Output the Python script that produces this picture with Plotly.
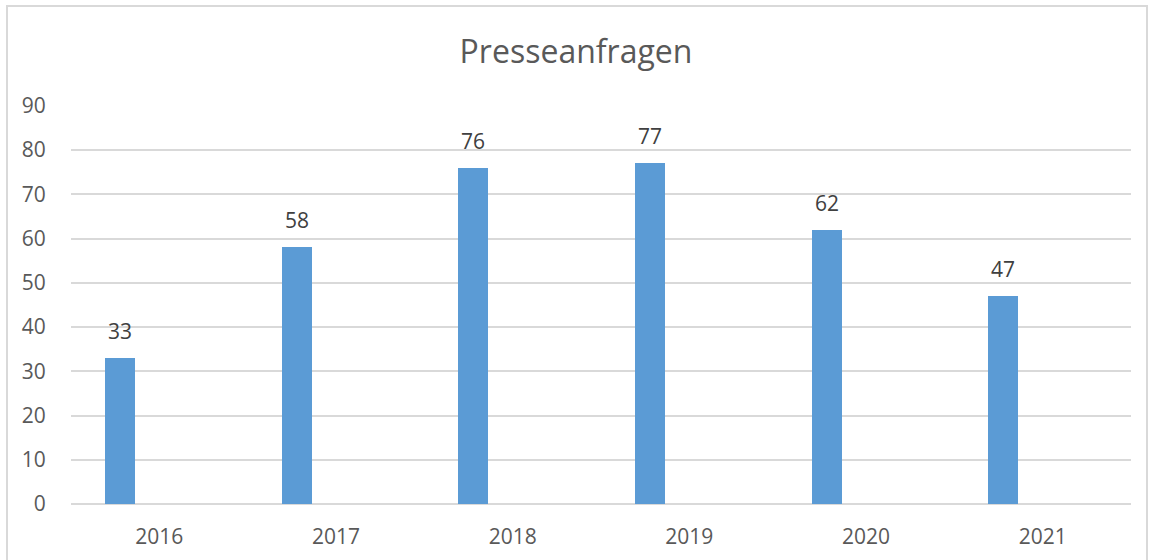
import plotly.graph_objects as go

years = ["2016", "2017", "2018", "2019", "2020", "2021"]
anfragen = [33, 58, 76, 77, 62, 47]
y_ticks = [0, 10, 20, 30, 40, 50, 60, 70, 80, 90]

FONT = "Open Sans"
GREY = "#595959"

BAR_W = 0.17
BAR_OFF = -0.307

fig = go.Figure()
fig.add_trace(go.Bar(
    x=years, y=anfragen,
    marker=dict(color="#5b9bd5", line=dict(width=0)),
    width=BAR_W, offset=BAR_OFF,
    hoverinfo="x+y",
))

# data labels: category index (the axis' own serial scale) + bar centre offset
annotations = [
    dict(x=i + BAR_OFF + BAR_W / 2, y=v, text=str(v), showarrow=False, xref="x", yref="y",
         yshift=27, yanchor="middle",
         font=dict(family=FONT, size=21, color="#404040"))
    for i, v in enumerate(anfragen)
]

fig.update_layout(
    width=1152, height=560,
    margin=dict(l=71, r=21, t=105, b=56),
    paper_bgcolor="white", plot_bgcolor="white",
    showlegend=False,
    title=dict(text="Presseanfragen", x=0.5, xanchor="center", y=1 - 52 / 560, yanchor="middle",
               font=dict(family=FONT, size=32, color=GREY)),
    xaxis=dict(type="category", range=[-0.5, len(years) - 0.5], automargin=False,
               showgrid=False, showline=False, zeroline=False,
               ticks="outside", ticklen=14, tickcolor="rgba(0,0,0,0)",
               tickfont=dict(family=FONT, size=21, color=GREY)),
    yaxis=dict(range=[0, 90.2], tickvals=y_ticks, automargin=False,
               showgrid=True, gridcolor="#d9d9d9", gridwidth=1.5,
               zeroline=True, zerolinecolor="#d9d9d9", zerolinewidth=1.5, showline=False,
               ticks="outside", ticklen=20, tickcolor="rgba(0,0,0,0)",
               tickfont=dict(family=FONT, size=21, color=GREY)),
    bargap=0,
    annotations=annotations,
    shapes=[dict(type="rect", xref="paper", yref="paper",
                 x0=-64 / 1060, x1=1 + 16 / 1060, y0=-80 / 399, y1=1 + 99 / 399,
                 line=dict(color="#d9d9d9", width=2), fillcolor="rgba(0,0,0,0)", layer="below")],
)

fig.write_html("out.html", config={"displayModeBar": False},
               post_script="document.body.style.margin='0px';")
